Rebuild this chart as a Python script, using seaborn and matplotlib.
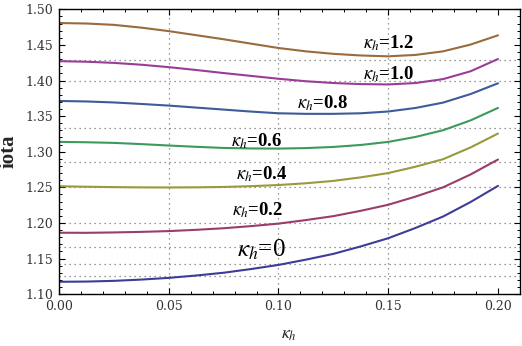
import numpy as np
import pandas as pd
import matplotlib
matplotlib.use('Agg')
import matplotlib.pyplot as plt
import seaborn as sns
from matplotlib.ticker import MultipleLocator, FormatStrFormatter

# values
kappa = [0.0, 0.0125, 0.025, 0.0375, 0.05, 0.0625, 0.075, 0.0875, 0.10,
         0.1125, 0.125, 0.1375, 0.15, 0.1625, 0.175, 0.1875, 0.20]
iota_00 = [1.1173, 1.1176, 1.1186, 1.1204, 1.1228, 1.1261, 1.1300, 1.1352, 1.1410,
           1.1484, 1.1565, 1.1670, 1.1785, 1.1930, 1.2090, 1.2293, 1.2520]
iota_02 = [1.1862, 1.1861, 1.1866, 1.1874, 1.1885, 1.1903, 1.1925, 1.1955, 1.1990,
           1.2040, 1.2095, 1.2170, 1.2255, 1.2370, 1.2500, 1.2680, 1.2890]
iota_04 = [1.2515, 1.2508, 1.2503, 1.2499, 1.2498, 1.2500, 1.2505, 1.2516, 1.2532,
           1.2557, 1.2590, 1.2640, 1.2700, 1.2790, 1.2895, 1.3060, 1.3255]
iota_06 = [1.3138, 1.3133, 1.3124, 1.3107, 1.3087, 1.3069, 1.3053, 1.3046, 1.3044,
           1.3051, 1.3067, 1.3095, 1.3138, 1.3208, 1.3302, 1.3440, 1.3615]
iota_08 = [1.3713, 1.3706, 1.3692, 1.3671, 1.3648, 1.3620, 1.3592, 1.3564, 1.3540,
           1.3532, 1.3532, 1.3540, 1.3565, 1.3615, 1.3690, 1.3810, 1.3961]
iota_10 = [1.4272, 1.4264, 1.4248, 1.4222, 1.4188, 1.4148, 1.4105, 1.4065, 1.4025,
           1.3990, 1.3965, 1.3950, 1.3945, 1.3965, 1.4020, 1.4130, 1.4302]
iota_12 = [1.4808, 1.4801, 1.4782, 1.4743, 1.4694, 1.4637, 1.4580, 1.4518, 1.4457,
           1.4410, 1.4375, 1.4352, 1.4340, 1.4360, 1.4410, 1.4505, 1.4635]
series_names = ['0', '0.2', '0.4', '0.6', '0.8', '1.0', '1.2']
colors = ['#3D3D99', '#993D6B', '#99993D', '#3D995C', '#3D5C99', '#993D99', '#996B3D']

# curve labels: text, x, y, size, weight
labels = [(r'$\kappa_h$=0', 0.0920, 1.162, 18, 'normal'),
          (r'$\kappa_h$=0.2', 0.0906, 1.218, 13.5, 'bold'),
          (r'$\kappa_h$=0.4', 0.0924, 1.268, 13.5, 'bold'),
          (r'$\kappa_h$=0.6', 0.0900, 1.315, 13.5, 'bold'),
          (r'$\kappa_h$=0.8', 0.1200, 1.368, 13.5, 'bold'),
          (r'$\kappa_h$=1.0', 0.1500, 1.409, 13.5, 'bold'),
          (r'$\kappa_h$=1.2', 0.1500, 1.452, 13.5, 'bold')]
grid_x = [0.05, 0.10, 0.15]
grid_y = [9/8, 8/7, 7/6, 6/5, 5/4, 9/7, 4/3, 7/5, 10/7]

all_iota = [iota_00, iota_02, iota_04, iota_06, iota_08, iota_10, iota_12]
df = pd.concat([pd.DataFrame({'kappa': kappa, 'iota': v, 'curve': n})
                for n, v in zip(series_names, all_iota)])

sns.set_style('ticks')
plt.rcParams['font.family'] = ['DejaVu Serif']
plt.rcParams['mathtext.fontset'] = 'stix'

fig = plt.figure(figsize=(5.22, 3.46), dpi=100)
ax = fig.add_axes([0.113, 0.150, 0.883, 0.823])

for gx in grid_x:
    ax.axvline(gx, color='#777777', lw=0.9, ls=(0, (1, 3)), zorder=0)
for gy in grid_y:
    ax.axhline(gy, color='#777777', lw=0.9, ls=(0, (1, 3)), zorder=0)

sns.lineplot(data=df, x='kappa', y='iota', hue='curve', palette=colors,
             legend=False, lw=1.5, ax=ax)

for txt, x, y, s, w in labels:
    ax.text(x, y, txt, fontsize=s, fontweight=w, ha='center', va='center',
            color='black', family='Liberation Serif')

ax.set_xlim(0, 0.21)
ax.set_ylim(1.10, 1.50)
ax.xaxis.set_minor_locator(MultipleLocator(0.01))
ax.yaxis.set_major_locator(MultipleLocator(0.05))
ax.yaxis.set_minor_locator(MultipleLocator(0.01))
ax.set_xticks([0, 0.05, 0.10, 0.15, 0.20])
ax.set_xticklabels(['0.00', '0.05', '0.10', '0.15', '0.20'])
ax.yaxis.set_major_formatter(FormatStrFormatter('%.2f'))
ax.tick_params(which='both', direction='in', top=True, right=True,
               labelsize=9, labelcolor='#333333', color='black', pad=4)
ax.tick_params(which='major', length=4, width=0.8)
ax.tick_params(which='minor', length=2.2, width=0.7)
for sp in ax.spines.values():
    sp.set_visible(True)
    sp.set_linewidth(1.0)
    sp.set_color('black')

ax.set_xlabel(r'$\kappa_h$', fontsize=13, labelpad=9)
ax.set_ylabel('iota', fontsize=15, fontweight='bold', labelpad=5,
              family='Liberation Serif')

fig.savefig('out.png', dpi=100)
